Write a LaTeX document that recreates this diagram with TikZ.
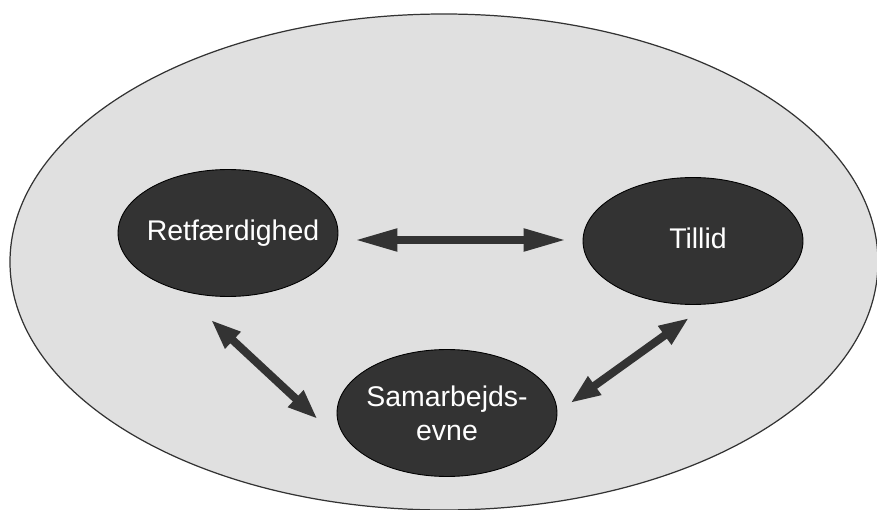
\documentclass[tikz,border=0pt]{standalone}
\usepackage{fontspec}
\setmainfont{Liberation Sans}
\usetikzlibrary{shapes.geometric,arrows.meta}
\definecolor{fieldgray}{HTML}{E0E0E0}
\definecolor{bubgray}{HTML}{333333}
\tikzset{
  bubble/.style={ellipse,draw=black,fill=bubgray,line width=0.5pt,
    minimum width=4.4cm,minimum height=2.54cm,inner sep=0pt},
  txt/.style={text=white,font=\fontsize{16.2}{19.5}\selectfont,align=center},
  arr/.style={draw=bubgray,line width=0.16cm,{Triangle[length=#1,width=0.42cm]}-{Triangle[length=#1,width=0.42cm]}},
}
\begin{document}
\begin{tikzpicture}[x=0.02cm,y=-0.02cm]
\useasboundingbox (0,0) rectangle (877,510);
\draw[fill=fieldgray,draw=black!80,line width=0.7pt] (444,262) ellipse[x radius=434,y radius=248];
\node[bubble,label={[txt,xshift=0.1cm]center:Retfærdighed}] (ret) at (228,233) {};
\node[bubble,label={[txt,xshift=0.1cm,yshift=0.06cm]center:Tillid}] (til) at (693,241) {};
\node[bubble,label={[txt]center:Samarbejds-\\evne}] (sam) at (447,413) {};
\draw[arr=0.86cm] ([shift={(16,7)}]ret.east) -- ([shift={(-16,-1)}]til.west);
\draw[arr=0.6cm] ([shift={(-17,23)}]ret.south) -- ([shift={(-19,6)}]sam.west);
\draw[arr=0.6cm] ([shift={(-4,13)}]til.south) -- ([shift={(13,-10)}]sam.east);
\end{tikzpicture}
\end{document}
